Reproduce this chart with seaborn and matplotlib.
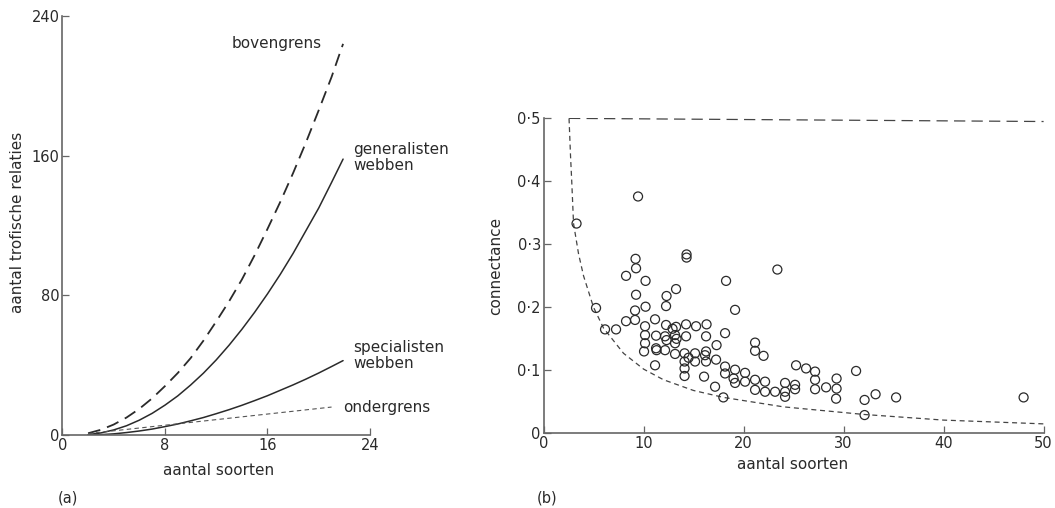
import matplotlib
matplotlib.use('Agg')
import matplotlib.pyplot as plt
import seaborn as sns

sns.set_style('ticks')
plt.rcParams['font.family'] = ['DejaVu Sans']

# panel (a): number of trophic links vs number of species
soorten_a = [2, 3, 4, 5, 6, 7, 8, 9, 10, 11, 12, 13, 14, 15, 16, 17, 18, 19, 20, 21, 21.9]
bovengrens = [1, 3, 6, 10, 15, 21, 28, 35.5, 44, 54, 65, 76.5, 89, 103, 118, 133.5,
              150, 167.5, 186, 205, 224]
generalisten = [0.2, 1.2, 2.9, 5.3, 8.5, 12.4, 17.1, 22.4, 28.6, 35.4, 43, 51.4, 60.5,
                70.3, 80.8, 92, 104, 117, 130, 144.6, 158]
specialisten = [0, 0.2, 0.65, 1.4, 2.3, 3.4, 4.8, 6.3, 8.1, 10, 12.2, 14.5, 17, 19.7,
                22.5, 25.6, 28.7, 32, 35.5, 39.2, 42.6]
soorten_onder = [2, 4, 6, 8, 10, 12, 14, 16, 18, 20, 21]
ondergrens = [0.8, 2.4, 4, 5.6, 7.2, 8.8, 10.4, 12, 13.6, 15.2, 16]

# panel (b): connectance vs number of species
bound_top_x = [2.55, 50]
bound_top_y = [0.5, 0.495]
bound_low_x = [2.55, 2.7, 2.82, 3.0, 3.5, 4, 5, 6, 8, 10, 12, 15, 18, 24, 32, 40, 50]
bound_low_y = [0.5, 0.44, 0.40, 0.333, 0.285, 0.25, 0.2, 0.167, 0.127, 0.102, 0.085,
               0.068, 0.057, 0.042, 0.030, 0.021, 0.015]

web_soorten = [3.3, 5.25, 6.15, 7.25, 8.25, 8.25, 9.2, 9.25, 9.25, 9.15, 9.15, 9.45,
               10.2, 10.2, 10.15, 10.15, 10.15, 10.05, 11.15, 11.25, 11.25, 11.15, 11.3,
               12.3, 12.25, 12.25, 12.15, 12.15, 12.9, 12.3, 13.25, 13.25, 13.15, 13.15,
               13.15, 13.3, 14.3, 14.3, 14.25, 14.25, 14.1, 14.1, 14.1, 14.1, 14.5,
               15.25, 15.15, 15.15, 16.3, 16.25, 16.25, 16.25, 16.05, 16.15, 17.3, 17.25,
               17.15, 18.25, 18.15, 18.15, 18.15, 17.98, 19.15, 19.15, 19.15, 19.0,
               20.15, 20.15, 21.15, 21.15, 21.15, 21.15, 22.0, 22.15, 22.15, 23.38,
               23.15, 24.15, 24.15, 24.15, 25.15, 25.15, 25.25, 26.25, 27.15, 27.15,
               27.15, 28.25, 29.3, 29.3, 29.25, 31.25, 32.1, 32.1, 33.2, 35.25, 48.0]
web_connectance = [0.333, 0.199, 0.165, 0.165, 0.250, 0.178, 0.277, 0.262, 0.220, 0.195,
                   0.180, 0.376, 0.242, 0.201, 0.170, 0.156, 0.143, 0.130, 0.181, 0.155,
                   0.135, 0.108, 0.132, 0.218, 0.202, 0.172, 0.154, 0.132, 0.166, 0.148,
                   0.229, 0.169, 0.156, 0.143, 0.126, 0.150, 0.284, 0.279, 0.173, 0.154,
                   0.127, 0.114, 0.103, 0.091, 0.120, 0.170, 0.127, 0.114, 0.173, 0.154,
                   0.130, 0.114, 0.090, 0.124, 0.140, 0.117, 0.074, 0.242, 0.159, 0.106,
                   0.095, 0.057, 0.196, 0.101, 0.080, 0.087, 0.096, 0.082, 0.144, 0.131,
                   0.085, 0.069, 0.123, 0.082, 0.066, 0.260, 0.066, 0.080, 0.066, 0.058,
                   0.077, 0.070, 0.108, 0.103, 0.098, 0.085, 0.070, 0.073, 0.087, 0.071,
                   0.055, 0.099, 0.053, 0.029, 0.062, 0.057, 0.057]

ink = '#2a2a2a'
axis_col = '#666666'
fs = 11

fig = plt.figure(figsize=(10.55, 5.08), dpi=100)
ax_a = fig.add_axes([0.0592, 0.1437, 0.2915, 0.825])
ax_b = fig.add_axes([0.5152, 0.147, 0.474, 0.620])

# ---- panel (a)
sns.lineplot(x=soorten_a, y=bovengrens, ax=ax_a, color=ink, linewidth=1.3,
             linestyle=(0, (7, 4)))
sns.lineplot(x=soorten_a, y=generalisten, ax=ax_a, color=ink, linewidth=1.1)
sns.lineplot(x=soorten_a, y=specialisten, ax=ax_a, color=ink, linewidth=1.1)
sns.lineplot(x=soorten_onder, y=ondergrens, ax=ax_a, color='#555555', linewidth=0.8,
             linestyle=(0, (4, 3)))

txt = dict(fontsize=fs, color=ink, va='center', ha='left')
ax_a.text(13.2, 224, 'bovengrens', **txt)
ax_a.text(22.7, 159, 'generalisten\nwebben', linespacing=1.05, **txt)
ax_a.text(22.7, 45.5, 'specialisten\nwebben', linespacing=1.05, **txt)
ax_a.text(21.9, 15.5, 'ondergrens', **txt)

ax_a.set_xlim(0, 24)
ax_a.set_ylim(0, 240)
ax_a.set_xticks([0, 8, 16, 24])
ax_a.set_yticks([0, 80, 160, 240])
ax_a.set_xlabel('aantal soorten', fontsize=fs, color=ink, va='center')
ax_a.set_ylabel('aantal trofische relaties', fontsize=fs, color=ink, va='center')
ax_a.xaxis.set_label_coords(0.506, -0.085)
ax_a.yaxis.set_label_coords(-0.145, 0.508)

# ---- panel (b)
sns.lineplot(x=bound_top_x, y=bound_top_y, ax=ax_b, color='#444444', linewidth=0.9,
             linestyle=(0, (9, 5)))
sns.lineplot(x=bound_low_x, y=bound_low_y, ax=ax_b, color='#444444', linewidth=0.9,
             linestyle=(0, (4, 3)))
sns.scatterplot(x=web_soorten, y=web_connectance, ax=ax_b, s=42, marker='o',
                facecolor='none', edgecolor=ink, linewidth=0.9, zorder=3)

ax_b.set_xlim(0, 50)
ax_b.set_ylim(0, 0.5)
ax_b.set_xticks([0, 10, 20, 30, 40, 50])
ax_b.set_yticks([0, 0.1, 0.2, 0.3, 0.4, 0.5])
ax_b.set_yticklabels(['0', '0·1', '0·2', '0·3', '0·4', '0·5'])
ax_b.set_xlabel('aantal soorten', fontsize=fs, color=ink, va='center')
ax_b.set_ylabel('connectance', fontsize=fs, color=ink, va='center')
ax_b.xaxis.set_label_coords(0.498, -0.1)
ax_b.yaxis.set_label_coords(-0.095, 0.531)

for ax in (ax_a, ax_b):
    sns.despine(ax=ax)
    for side in ('left', 'bottom'):
        ax.spines[side].set_color(axis_col)
        ax.spines[side].set_linewidth(1.2)
    ax.tick_params(direction='in', length=5, width=0.9, color=axis_col,
                   labelsize=10.5, labelcolor=ink, pad=2)

fig.text(58 / 1055, 1 - 498 / 508, '(a)', fontsize=10.5, color=ink, va='center')
fig.text(537 / 1055, 1 - 498 / 508, '(b)', fontsize=10.5, color=ink, va='center')

fig.savefig('out.png', dpi=100)
